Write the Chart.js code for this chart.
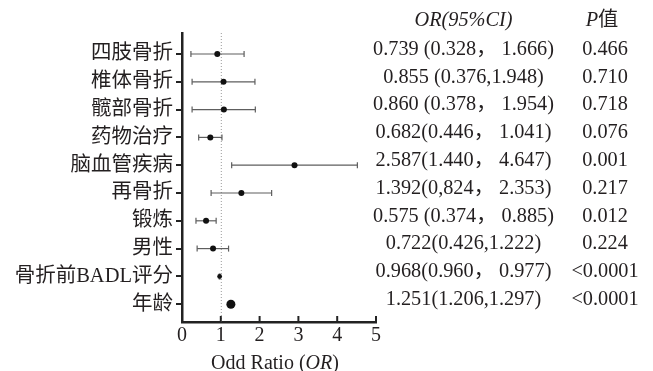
<!DOCTYPE html>
<html><head><meta charset="utf-8">
<script src="https://cdn.jsdelivr.net/npm/chart.js@4.4.0/dist/chart.umd.min.js"></script>
<style>html,body{margin:0;padding:0;background:#fff}#wrap{width:653px;height:371px}</style>
</head><body><div id="wrap"><canvas id="c" width="653" height="371"></canvas></div>
<script>
// ---- data ----
const categories = ['四肢骨折','椎体骨折','髋部骨折','药物治疗','脑血管疾病','再骨折','锻炼','男性','骨折前BADL评分','年龄'];
const orPoint = [0.91, 1.07, 1.08, 0.73, 2.90, 1.53, 0.62, 0.80, 0.97, 1.26];
const ciLow   = [0.23, 0.26, 0.26, 0.43, 1.28, 0.75, 0.36, 0.39, 0.96, 1.21];
const ciHigh  = [1.60, 1.88, 1.89, 1.03, 4.52, 2.31, 0.88, 1.20, 0.98, 1.30];
const orText = ['0.739 (0.328， 1.666)','0.855 (0.376,1.948)','0.860 (0.378， 1.954)','0.682(0.446， 1.041)','2.587(1.440， 4.647)','1.392(0,824， 2.353)','0.575 (0.374， 0.885)','0.722(0.426,1.222)','0.968(0.960， 0.977)','1.251(1.206,1.297)'];
const pText = ['0.466','0.710','0.718','0.076','0.001','0.217','0.012','0.224','<0.0001','<0.0001'];
const xTicks = [0, 1, 2, 3, 4, 5];
const refValue = 1;

// ---- styles ----
const FONT = "'Liberation Serif','Noto Sans CJK SC',serif";
const TXT = '#231f20';
const pointRadii = categories.map((c, i) => i === 9 ? 4.5 : (i === 8 ? 2.4 : 3));
Chart.defaults.font.family = FONT;
Chart.defaults.color = TXT;

const datasets = [];
categories.forEach((c, i) => {
  datasets.push({
    type: 'line', order: 2, data: [{x: ciLow[i], y: i}, {x: ciHigh[i], y: i}],
    borderColor: '#5e5e5e', borderWidth: 1.2, pointRadius: 0, showLine: true, fill: false
  });
});
datasets.push({
  type: 'scatter', order: 1,
  data: categories.flatMap((c, i) => [{x: ciLow[i], y: i}, {x: ciHigh[i], y: i}]),
  pointStyle: 'line', rotation: 90, pointRadius: 3, borderColor: '#5e5e5e', borderWidth: 1.2
});
datasets.push({
  type: 'scatter', order: 0,
  data: categories.map((c, i) => ({x: orPoint[i], y: i})),
  pointStyle: 'circle', pointRadius: pointRadii, backgroundColor: '#111', borderWidth: 0
});

function drawMixed(ctx, segs, cx, y, size) {
  let total = 0;
  segs.forEach(s => { ctx.font = (s[1] ? 'italic ' : '') + size + 'px ' + FONT; s.w = ctx.measureText(s[0]).width; total += s.w; });
  let x = cx - total / 2;
  ctx.textAlign = 'left';
  segs.forEach(s => { ctx.font = (s[1] ? 'italic ' : '') + size + 'px ' + FONT; ctx.fillText(s[0], x, y); x += s.w; });
}

const extras = {
  id: 'extras',
  beforeDatasetsDraw(chart) {
    const {ctx, chartArea, scales} = chart;
    const x = scales.x.getPixelForValue(refValue);
    ctx.save();
    ctx.strokeStyle = '#9a9a9a'; ctx.lineWidth = 1; ctx.setLineDash([1, 2]);
    ctx.beginPath(); ctx.moveTo(x + 0.5, chartArea.top); ctx.lineTo(x + 0.5, chartArea.bottom); ctx.stroke();
    ctx.restore();
  },
  afterDraw(chart) {
    const {ctx, chartArea, scales} = chart;
    ctx.save();
    ctx.strokeStyle = '#222'; ctx.lineWidth = 2;
    xTicks.forEach(v => {
      const x = scales.x.getPixelForValue(v);
      ctx.beginPath(); ctx.moveTo(x, chartArea.bottom - 6); ctx.lineTo(x, chartArea.bottom); ctx.stroke();
    });
    ctx.fillStyle = TXT;
    ctx.textBaseline = 'middle';
    const orX = 463.5, pX = 605;
    const hy = scales.y.getPixelForValue(-1) - 6;
    drawMixed(ctx, [['OR(95%CI)', true]], orX, hy, 20.3);
    drawMixed(ctx, [['P', true], ['值', false]], pX - 3, hy, 20.3);
    ctx.font = '20.3px ' + FONT;
    ctx.textAlign = 'center';
    categories.forEach((c, i) => {
      const y = scales.y.getPixelForValue(i) - 4.5;
      ctx.fillText(orText[i], orX, y);
      ctx.fillText(pText[i], pX, y);
    });
    ctx.textBaseline = 'alphabetic';
    drawMixed(ctx, [['Odd Ratio (', false], ['OR', true], [')', false]], 275, 369, 20);
    ctx.restore();
  }
};

new Chart(document.getElementById('c'), {
  type: 'scatter',
  data: {datasets},
  options: {
    responsive: false, animation: false, devicePixelRatio: 1,
    layout: {padding: {left: 0, right: 277, top: 33, bottom: 0}},
    plugins: {legend: {display: false}, tooltip: {enabled: false}},
    scales: {
      x: {
        type: 'linear', min: 0, max: 5,
        afterBuildTicks: s => { s.ticks = xTicks.map(v => ({value: v})); },
        afterFit: s => { s.height = 49; },
        ticks: {font: {size: 20, family: FONT}, color: TXT, padding: 2, maxRotation: 0},
        grid: {drawOnChartArea: false, drawTicks: false},
        border: {display: true, color: '#222', width: 2.5}
      },
      y: {
        type: 'linear', min: -0.755, max: 9.64, reverse: true,
        afterBuildTicks: s => { s.ticks = categories.map((c, i) => ({value: i})); },
        afterFit: s => { s.width = 182; },
        ticks: {autoSkip: false, font: {size: 20.5, family: FONT}, color: TXT, padding: 3,
          callback: (v) => categories[v]},
        grid: {drawOnChartArea: false, drawTicks: true, tickLength: 6, color: '#222', lineWidth: 2},
        border: {display: true, color: '#222', width: 2.5}
      }
    }
  },
  plugins: [extras]
});
</script></body></html>
